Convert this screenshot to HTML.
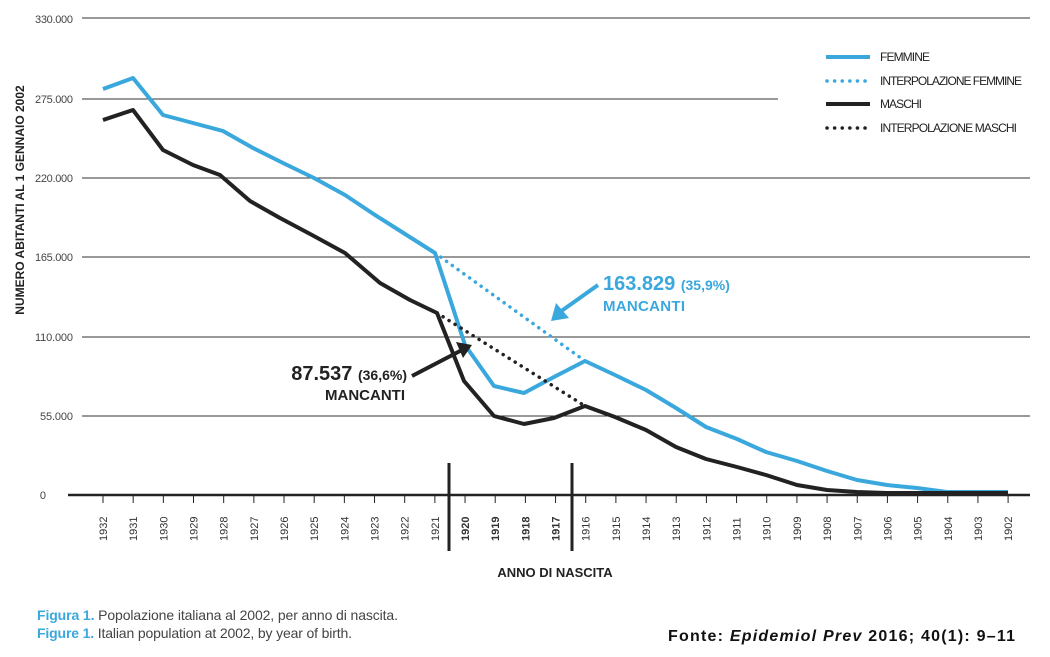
<!DOCTYPE html>
<html><head><meta charset="utf-8"><style>
body{margin:0;background:#fff;width:1050px;height:652px;overflow:hidden;font-family:"Liberation Sans",sans-serif}
svg text{font-family:"Liberation Sans",sans-serif}
</style></head><body>
<svg width="1050" height="652" viewBox="0 0 1050 652" xmlns="http://www.w3.org/2000/svg">
<g stroke="#333" stroke-width="1">
<line x1="82" y1="18" x2="1030" y2="18"/>
<line x1="82" y1="99" x2="778" y2="99"/>
<line x1="82" y1="178" x2="1030" y2="178"/>
<line x1="82" y1="257" x2="1030" y2="257"/>
<line x1="82" y1="337" x2="1030" y2="337"/>
<line x1="82" y1="416" x2="1030" y2="416"/>
</g>
<g font-size="11" fill="#444" text-anchor="end">
<text x="73" y="23" textLength="38">330.000</text><text x="73" y="103" textLength="38">275.000</text><text x="73" y="182" textLength="38">220.000</text>
<text x="73" y="261" textLength="38">165.000</text><text x="73" y="341" textLength="38">110.000</text><text x="73" y="420" textLength="33">55.000</text><text x="46" y="499">0</text>
</g>
<text transform="translate(24,200) rotate(-90)" font-size="12" font-weight="bold" fill="#222" text-anchor="middle">NUMERO ABITANTI AL 1 GENNAIO 2002</text>
<line x1="68" y1="495" x2="1030" y2="495" stroke="#222" stroke-width="2.5"/>
<g stroke="#222" stroke-width="1" id="ticks"></g>
<g id="xl" font-size="11" fill="#333"></g>
<line x1="449" y1="463" x2="449" y2="551" stroke="#222" stroke-width="3"/>
<line x1="572" y1="463" x2="572" y2="551" stroke="#222" stroke-width="3"/>
<text x="555" y="577" font-size="13" font-weight="bold" fill="#222" text-anchor="middle">ANNO DI NASCITA</text>
<polyline fill="none" stroke="#3aa8dc" stroke-width="4" stroke-linejoin="round" points="103,89 133,78 163,115 193,123 223,131 253,148 283,163 314,178 345,195 375,215 405,234 435,253 465,345 494,386 524,393 554,377 585,361 615,375 646,390 676,408 706,427 737,439 766,452 797,461 827,471 857,480 887,485 917,488 947,492 978,492 1008,492"/>
<polyline fill="none" stroke="#222" stroke-width="4" stroke-linejoin="round" points="103,120 133,110 163,150 193,165 220,175 250,201 280,218 312,235 345,253 380,283 410,300 437,313 464,381 494,416 524,424 554,418 585,406 615,417 646,430 676,447 706,459 737,467 766,475 797,485 827,490 857,492 887,493 917,493 947,493 978,493 1008,493"/>
<line x1="435" y1="253" x2="585" y2="361" stroke="#3aa8dc" stroke-width="3.5" stroke-dasharray="0.1 7" stroke-linecap="round"/>
<line x1="437" y1="313" x2="585" y2="406" stroke="#222" stroke-width="3.5" stroke-dasharray="0.1 7" stroke-linecap="round"/>
<line x1="826" y1="57" x2="870" y2="57" stroke="#3aa8dc" stroke-width="4"/>
<line x1="827" y1="81" x2="870" y2="81" stroke="#3aa8dc" stroke-width="3.5" stroke-dasharray="0.1 7.5" stroke-linecap="round"/>
<line x1="826" y1="104" x2="870" y2="104" stroke="#222" stroke-width="4"/>
<line x1="827" y1="128" x2="870" y2="128" stroke="#222" stroke-width="3.5" stroke-dasharray="0.1 7.5" stroke-linecap="round"/>
<g font-size="12" fill="#222"><text x="880" y="61" textLength="50">FEMMINE</text><text x="880" y="85" textLength="142">INTERPOLAZIONE FEMMINE</text><text x="880" y="108" textLength="42">MASCHI</text><text x="880" y="132" textLength="137">INTERPOLAZIONE MASCHI</text></g>
<line x1="598" y1="285" x2="560" y2="312" stroke="#3aa8dc" stroke-width="4"/>
<polygon points="551,321 556,303 569,318" fill="#3aa8dc"/>
<text x="603" y="290" font-size="20" font-weight="bold" fill="#3aa8dc">163.829 <tspan font-size="14">(35,9%)</tspan></text>
<text x="603" y="311" font-size="15" font-weight="bold" fill="#3aa8dc" textLength="82">MANCANTI</text>
<line x1="412" y1="376" x2="462" y2="350" stroke="#222" stroke-width="4"/>
<polygon points="472,345 456,342 463,358" fill="#222"/>
<text x="407" y="380" font-size="20" font-weight="bold" fill="#222" text-anchor="end">87.537 <tspan font-size="14">(36,6%)</tspan></text>
<text x="405" y="400" font-size="15" font-weight="bold" fill="#222" text-anchor="end">MANCANTI</text>
<g font-size="14"><text x="37" y="620" textLength="361"><tspan fill="#3aa8dc" font-weight="bold">Figura 1.</tspan><tspan fill="#444"> Popolazione italiana al 2002, per anno di nascita.</tspan></text>
<text x="37" y="638" textLength="315"><tspan fill="#3aa8dc" font-weight="bold">Figure 1.</tspan><tspan fill="#444"> Italian population at 2002, by year of birth.</tspan></text></g>
<text x="668" y="641" font-size="16" font-weight="bold" fill="#111" textLength="347">Fonte: <tspan font-style="italic">Epidemiol Prev</tspan> 2016; 40(1): 9–11</text>
</svg>
<script>
var t=document.getElementById('ticks'),l=document.getElementById('xl'),ns='http://www.w3.org/2000/svg';
for(var i=0;i<=30;i++){var y=1932-i,x=103+i*30.17;
var ln=document.createElementNS(ns,'line');ln.setAttribute('x1',x);ln.setAttribute('x2',x);ln.setAttribute('y1',495);ln.setAttribute('y2',503);t.appendChild(ln);
var tx=document.createElementNS(ns,'text');tx.setAttribute('transform','translate('+(x+4)+',541) rotate(-90)');tx.textContent=y;
if(y>=1917&&y<=1920)tx.setAttribute('font-weight','bold');l.appendChild(tx);}
</script>
</body></html>
